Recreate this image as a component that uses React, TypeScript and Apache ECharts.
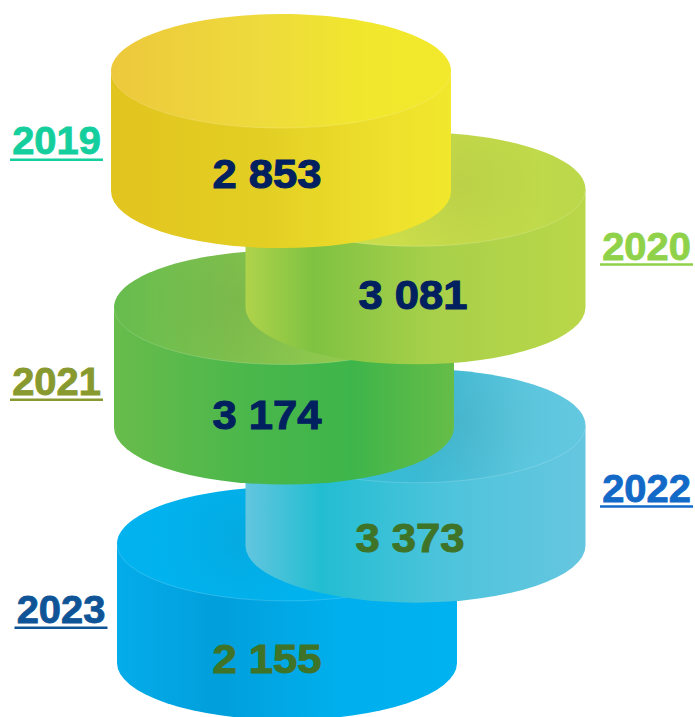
import React, { useEffect, useRef } from "react";
import * as echarts from "echarts";

const years = ["2019", "2020", "2021", "2022", "2023"];
const amounts = [2853, 3081, 3174, 3373, 2155];
const columns = ["left", "right"];
const columnOfYear = [0, 1, 0, 1, 0];

const yearColors = ["#14CF9D", "#8FD24A", "#88992F", "#1269C7", "#0E5496"];
const amountColors = ["#00205F", "#00205F", "#00205F", "#3F7428", "#3F7428"];
const topStops: [number, string][][] = [
  [[0, "#EDC83C"], [0.45, "#EEDB3C"], [0.75, "#F1E72C"], [1, "#F2E82C"]],
  [[0, "#C4DA48"], [0.45, "#CBDD4A"], [0.75, "#C2DB4A"], [1, "#BBD84B"]],
  [[0, "#66BC4E"], [0.35, "#80C24E"], [0.65, "#90C84E"], [1, "#8CC54C"]],
  [[0, "#32BBD2"], [0.5, "#3ABBD6"], [0.8, "#5AC6DE"], [1, "#63C8E0"]],
  [[0, "#01B2EE"], [0.5, "#00B3EF"], [1, "#00B3EF"]],
];
const sideStops: [number, string][][] = [
  [[0, "#E2C41E"], [0.45, "#E3CF24"], [0.8, "#EEDF2C"], [1, "#F1E82C"]],
  [[0, "#AFD34A"], [0.2, "#7FC242"], [0.55, "#A8D04A"], [1, "#BAD748"]],
  [[0, "#68BC4B"], [0.4, "#4AB74B"], [0.7, "#3EB54A"], [1, "#66BD47"]],
  [[0, "#63C6DF"], [0.22, "#22BDD2"], [0.6, "#4EC4DC"], [1, "#66C6E0"]],
  [[0, "#04ACEA"], [0.3, "#019FDB"], [0.65, "#00AFED"], [1, "#00B2F0"]],
];

// layout offsets (pixels) relative to each disc's band centre
const bottomOffset = [61, 59, 61, 61, 60];
const amountDx = [-17, -2.5, -17, -5.5, -17];
const amountDy = [44, 47, 49, 53, 56];
const labelDy = [11, -1, 15.5, 4, 7];
const ruleDy = [28.5, 15, 32, 20.5, 23.5];
const labelCentre = [56.5, 646.5, 56.5, 646.5, 61];

const formatAmount = (v: number) => String(v).replace(/\B(?=(\d{3})+$)/g, " ");

const RX = 170;
const RY = 57;
const HALF = 59;

function renderDisc(_params: any, api: any) {
  const row = api.value(1) as number;
  const col = api.value(0) as number;
  const [bx, by] = api.coord([col, row]);
  const cx = bx + (col === 0 ? (row - 2) * 1.5 : 0);
  const topY = by - HALF;
  const botY = by + bottomOffset[row];
  const left = cx - RX;
  const right = cx + RX;
  const horiz = (stops: [number, string][]) => ({
    type: "linear", x: 0, y: 0, x2: 1, y2: 0,
    colorStops: stops.map(([offset, color]) => ({ offset, color })),
  });
  const children: any[] = [
    {
      type: "path",
      shape: {
        pathData: `M${left} ${topY}L${left} ${botY}A${RX} ${RY} 0 0 0 ${right} ${botY}L${right} ${topY}Z`,
      },
      style: { fill: horiz(sideStops[row]) },
    },
    {
      type: "ellipse",
      shape: { cx, cy: topY, rx: RX, ry: RY },
      style: { fill: horiz(topStops[row]) },
    },
  ];
  if (row > 0) {
    const spotX = cx + (col === 0 ? -45 : 45);
    children.push({
      type: "ellipse",
      shape: { cx, cy: topY, rx: RX, ry: RY },
      style: {
        fill: {
          type: "radial", x: spotX, y: topY - 5, r: 85, global: true,
          colorStops: [
            { offset: 0, color: "rgba(60,60,40,0.07)" },
            { offset: 1, color: "rgba(60,60,40,0)" },
          ],
        },
      },
    });
  }
  children.push({
    type: "path",
    shape: { pathData: `M${left} ${topY}A${RX} ${RY} 0 0 0 ${right} ${topY}` },
    style: { fill: "none", stroke: "rgba(255,255,255,0.16)", lineWidth: 1 },
  });
  children.push({
    type: "text",
    x: bx + amountDx[row],
    y: by + amountDy[row],
    scaleX: 1.09,
    style: {
      text: formatAmount(api.value(2) as number),
      font: 'bold 40px "Liberation Sans", Arial, sans-serif',
      fill: amountColors[row],
      stroke: amountColors[row],
      lineWidth: 1,
      align: "center",
      verticalAlign: "middle",
    },
  });
  const labelX = labelCentre[row];
  children.push({
    type: "text",
    x: labelX,
    y: by + labelDy[row],
    scaleX: 1.05,
    style: {
      text: years[row],
      font: 'bold 38px "Liberation Sans", Arial, sans-serif',
      fill: yearColors[row],
      stroke: yearColors[row],
      lineWidth: 0.8,
      align: "center",
      verticalAlign: "middle",
    },
  });
  children.push({
    type: "rect",
    shape: { x: labelX - 46.5, y: by + ruleDy[row], width: 93, height: 2.5 },
    style: { fill: yearColors[row] },
  });
  return { type: "group", children };
}

export default function App() {
  const ref = useRef<HTMLDivElement>(null);
  useEffect(() => {
    const chart = echarts.init(ref.current!, null, { renderer: "svg" });
    const data = years.map((_, i) => [columnOfYear[i], i, amounts[i]]).reverse();
    chart.setOption({
      animation: false,
      backgroundColor: "#fff",
      grid: { left: 218.25, width: 263, top: 71, height: 591, containLabel: false },
      xAxis: { type: "category", data: columns, show: false },
      yAxis: { type: "category", data: years, inverse: true, show: false },
      series: [
        {
          type: "custom",
          coordinateSystem: "cartesian2d",
          clip: false,
          data,
          encode: { x: 0, y: 1 },
          renderItem: renderDisc,
        },
      ],
    });
    return () => chart.dispose();
  }, []);
  return (
    <div
      ref={ref}
      style={{ position: "fixed", left: 0, top: 0, width: 695, height: 717, overflow: "hidden" }}
    />
  );
}
